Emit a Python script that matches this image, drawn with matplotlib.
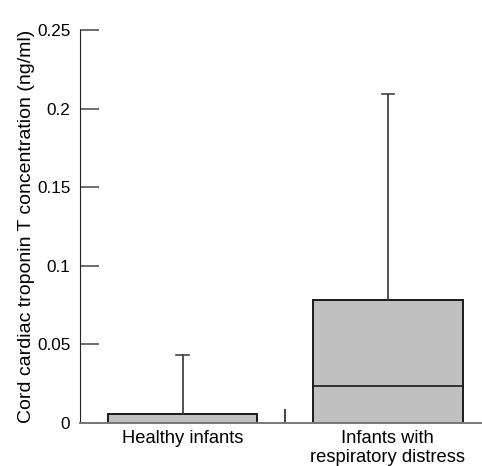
import matplotlib.pyplot as plt

# box summaries (ng/ml)
groups = ["Healthy infants", "Infants with\nrespiratory distress"]
q1 = [0.0, 0.0]
median = [0.0, 0.0235]
q3 = [0.006, 0.078]
upper = [0.043, 0.209]
yticks = [0, 0.05, 0.1, 0.15, 0.2, 0.25]
ytick_labels = ["0", "0.05", "0.1", "0.15", "0.2", "0.25"]

plt.rcParams['font.family'] = ['Liberation Sans', 'DejaVu Sans']

fig = plt.figure(figsize=(4.82, 4.66), dpi=100)
ax = fig.add_axes([0.166, 0.0923, 0.834, 0.8433])

stats = []
for i, name in enumerate(groups):
    stats.append({'label': name, 'q1': q1[i], 'med': median[i], 'q3': q3[i],
                  'whislo': q1[i], 'whishi': upper[i], 'fliers': []})

ax.bxp(stats, positions=[0, 1], widths=0.73, patch_artist=True,
       boxprops=dict(facecolor='#c0c0c0', edgecolor='#1a1a1a', linewidth=1.4),
       medianprops=dict(color='#1a1a1a', linewidth=1.2),
       whiskerprops=dict(color='#333333', linewidth=1.2),
       capprops=dict(color='#444444', linewidth=1.2), capwidths=0.06)

ax.set_xlim(-0.5, 1.46)
ax.set_ylim(0, 0.25)
ax.set_yticks(yticks)
ax.set_yticklabels(ytick_labels)
ax.set_xticks([0.5], minor=True)
ax.tick_params(axis='x', which='major', length=0, labelsize=13.2, pad=5)
for lab in ax.get_xticklabels():
    lab.set_linespacing(1.15)
ax.tick_params(axis='x', which='minor', direction='in', length=10, width=1.3, color='#333333')
ax.tick_params(axis='y', direction='in', length=14, width=1.2, color='#555555', labelsize=12.3, pad=7)
ax.spines['top'].set_visible(False)
ax.spines['right'].set_visible(False)
ax.spines['left'].set_color('#222222')
ax.spines['bottom'].set_color('#777777')
ax.spines['bottom'].set_linewidth(1.4)
ax.set_ylabel("Cord cardiac troponin T concentration (ng/ml)", fontsize=14, labelpad=1.5)

fig.savefig("out.png", dpi=100)
